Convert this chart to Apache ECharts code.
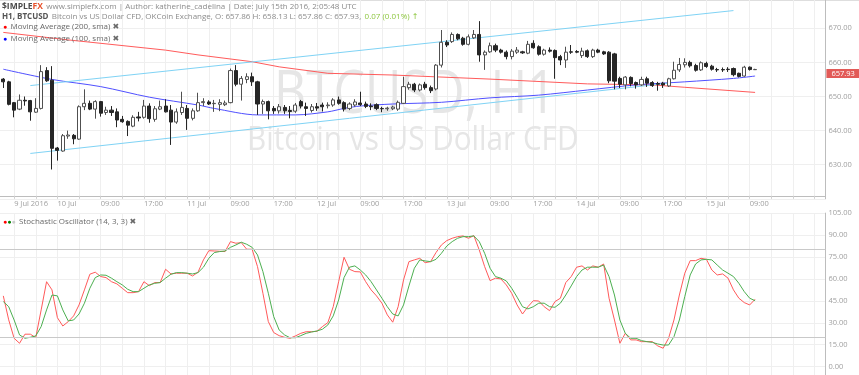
<!DOCTYPE html>
<html><head><meta charset="utf-8">
<script src="https://cdn.jsdelivr.net/npm/echarts@6/dist/echarts.min.js"></script>
<style>html,body{margin:0;padding:0;background:#fff}#c{width:859px;height:375px}</style>
</head><body><div id="c"></div>
<script>
// ---------- data ----------
const xTickLabels = ['9 Jul 2016','10 Jul','09:00','17:00','11 Jul','09:00','17:00','12 Jul','09:00','17:00','13 Jul','09:00','17:00','14 Jul','09:00','17:00','15 Jul','09:00'];

const opens = [655.1,654.3,648.2,646.3,648.9,648.8,645.4,646.5,657.6,654.8,
634.9,634.0,638.4,638.6,637.5,647.0,648.0,646.3,648.5,645.3,
646.0,645.5,643.3,642.7,641.3,644.0,643.9,647.2,643.3,646.3,
647.2,646.0,642.5,645.3,646.5,643.6,645.8,648.2,648.4,647.9,
647.7,647.6,648.2,657.6,653.6,655.0,655.8,654.3,647.8,648.5,
646.5,645.8,646.8,645.9,645.7,648.5,647.0,645.9,647.0,647.5,
647.3,647.5,649.0,648.2,646.5,647.5,648.1,647.8,647.2,647.6,
646.5,646.4,646.4,646.3,648.0,652.6,653.6,651.9,653.6,652.6,
652.2,659.2,665.9,666.1,668.2,667.1,665.3,667.2,668.2,662.2,
663.1,664.9,663.6,663.0,661.7,663.0,663.1,662.7,665.6,664.6,
662.4,663.6,663.5,661.7,660.7,663.1,663.2,662.0,663.4,661.7,
663.6,663.1,663.0,662.5,655.3,653.4,655.6,654.1,653.4,655.2,
654.1,653.8,653.9,653.1,655.2,657.8,659.3,660.0,659.1,657.8,
659.7,658.9,657.9,657.9,658.0,658.2,656.8,656.0,658.6,657.86];
const closes = [654.3,647.7,646.0,648.9,648.7,645.5,646.5,657.3,654.6,634.8,
634.2,638.5,638.7,637.6,647.0,648.0,646.3,648.5,645.1,646.0,
645.3,643.1,642.6,641.6,643.9,643.7,647.2,643.5,646.4,647.0,
645.5,642.5,645.5,646.8,643.6,645.8,648.2,648.5,647.8,648.0,
648.2,648.1,657.6,653.6,655.3,655.8,654.3,647.8,648.5,645.8,
645.8,647.0,645.8,645.6,647.5,647.2,646.5,647.0,646.6,647.0,
647.5,649.0,648.0,646.3,647.8,648.4,647.6,647.1,647.0,646.5,
646.4,646.6,646.9,648.3,652.9,653.6,651.9,653.4,652.6,651.7,
659.2,665.9,665.1,668.2,666.9,665.3,667.5,668.2,662.2,663.0,
664.9,663.6,663.0,661.7,663.3,663.6,662.8,665.3,664.3,662.4,
663.6,663.3,661.4,660.7,663.0,663.0,663.0,663.3,661.7,663.6,
663.0,662.5,654.6,654.5,653.6,655.7,653.8,653.4,655.0,653.9,
653.2,653.6,653.4,655.2,657.7,659.4,660.0,659.0,657.7,659.9,
658.8,658.0,657.8,657.8,657.9,656.4,655.9,658.6,657.9,657.93];
const lows = [652.5,647.4,643.9,646.0,647.3,642.9,645.2,646.2,654.3,628.6,
631.2,633.8,637.6,636.0,637.3,646.0,646.0,643.5,644.1,644.6,
644.3,641.0,642.3,638.4,641.0,642.7,643.5,642.3,642.6,646.0,
645.3,635.8,642.0,644.6,640.2,643.0,645.5,647.2,647.5,645.5,
645.7,647.2,648.0,653.0,648.8,653.9,653.1,644.6,644.9,643.3,
644.9,645.0,644.9,643.6,645.2,646.5,644.3,645.3,645.8,645.6,
646.5,647.0,647.6,645.6,646.0,647.0,647.2,646.6,646.0,646.0,
645.4,645.8,646.0,645.8,647.8,652.0,651.3,651.5,652.0,651.0,
651.8,658.5,664.5,665.7,666.5,664.9,665.0,666.9,660.2,657.8,
662.8,663.0,662.6,660.9,660.9,662.5,662.5,662.4,664.0,662.0,
662.0,662.9,655.2,659.2,658.4,662.5,662.7,661.3,661.3,661.3,
662.7,662.2,653.9,652.1,652.5,652.1,653.0,652.3,653.1,652.8,
652.8,651.7,652.5,652.8,655.0,657.2,658.5,658.5,657.3,657.5,
658.4,657.6,657.2,657.2,657.2,655.9,655.6,655.8,657.6,657.86];
const highs = [655.4,654.6,648.4,650.6,650.0,649.0,649.5,659.2,658.6,658.9,
635.2,639.0,640.0,639.0,647.4,652.1,648.8,648.9,648.7,647.0,
647.2,646.5,644.3,643.0,644.5,645.5,649.0,648.0,647.2,648.8,
649.2,647.5,646.5,651.4,647.5,646.5,651.1,649.5,648.9,649.0,
649.2,648.8,658.2,659.2,656.0,656.8,657.0,654.6,649.1,648.8,
647.2,647.8,647.5,647.2,648.1,649.0,648.2,647.8,648.1,648.2,
648.3,649.5,650.0,648.6,648.3,649.2,651.4,648.5,648.0,648.0,
647.0,647.0,647.3,648.8,655.8,654.3,654.0,653.8,654.3,653.2,
659.5,669.5,666.5,668.8,668.5,667.5,668.2,669.5,672.1,663.5,
665.8,665.5,664.0,663.5,663.9,664.5,663.4,666.3,666.5,665.0,
664.0,664.4,663.8,662.2,664.6,665.1,663.6,664.3,663.8,664.0,
664.0,663.4,663.3,662.8,655.8,656.0,655.9,654.4,655.8,655.8,
654.5,654.3,654.3,655.5,660.2,661.3,661.2,660.5,659.6,660.3,
660.2,659.3,658.4,658.5,658.6,658.5,657.0,659.0,658.8,658.13];

// moving averages / trend lines as [candle index, price]
const ma200 = [[0,668.8],[12,666.6],[30,663.6],[36,662.2],[46,660.2],[51,658.7],[60,656.8],[72,656.3],[90,655.1],[108,653.7],[120,653.4],[126,652.7],[139,651.2]];
const ma100 = [[0,658.0],[9,655.0],[18,652.9],[27,649.8],[36,647.5],[39,646.5],[47,644.6],[54,644.6],[60,645.5],[63,646.5],[66,647.2],[72,647.8],[81,648.3],[90,649.6],[99,650.4],[108,651.9],[117,653.4],[126,654.3],[135,655.3],[139,656.0]];
const upperTrend = [[5,653.2],[135,675.2]];
const lowerTrend = [[5,633.3],[123,653.9]];

// stochastic oscillator
const stochK = [48.4,32,19.4,16,22.2,22.2,19.9,38.8,58.1,52.5,
33.5,27.8,30.8,34.7,42.2,52.5,63.2,64.6,61.6,60.9,
58.1,56.6,53.6,50.6,50.6,51.3,58.1,55.4,57.5,57.5,
66.6,63.4,63.9,63.9,63.9,62.0,64.6,73.0,79.3,79.1,
78.9,78.7,85.5,84.4,84.8,80.3,80.3,68.4,50.2,30.8,
23.3,21.2,20.1,19.4,21.0,22.8,23.9,23.9,24.2,27.4,
30.1,41.0,58.1,74.8,66.6,65.0,64.8,58.1,52.5,48.4,
43.4,35.4,30.4,41.0,59.3,71.8,73.0,74.1,71.1,71.8,
78.0,83.2,86.2,87.8,88.9,89.4,87.8,89.6,79.8,68.4,
58.8,60.5,60.0,55.9,50.2,42.2,36.0,41.0,45.1,44.9,
41.0,38.3,44.5,46.8,57.5,61.6,68.0,68.9,66.1,68.9,
68.0,70.2,46.8,31.9,16.0,22.8,18.3,18.3,17.1,17.1,
17.1,14.2,12.6,19.4,31.9,49.0,63.9,72.5,72.5,74.1,
73.4,66.1,62.7,63.4,60.5,52.5,46.8,43.8,42.2,46.1];
const stochD = [44.5,41,31.9,21.7,19.4,20.1,21.0,27.4,38.8,49.0,
48.4,38.8,31.3,31.9,36.0,43.4,53.6,60.9,62.7,62.5,
60.5,58.1,55.9,52.9,51.3,51.3,53.6,55.9,57.0,57.5,
60.5,63.2,64.3,64.3,63.9,63.4,64.3,68.0,74.1,78.0,
78.7,79.1,81.6,83.2,85.1,83.7,81.6,76.4,65.0,50.2,
34.2,25.1,21.7,19.8,19.8,21.2,22.8,23.7,24.4,25.6,
28.5,34.7,45.6,60.9,68.0,68.9,66.1,62.7,58.1,52.5,
46.8,41.0,36.0,34.7,42.2,55.2,67.3,73.0,72.3,71.8,
73.4,77.5,82.5,85.5,87.8,88.9,88.9,89.4,85.5,77.5,
67.3,61.6,60.5,58.6,53.6,47.5,41.0,39.5,41.0,43.4,
43.4,41.0,40.6,43.4,49.0,55.2,61.6,66.1,68.0,68.0,
68.0,69.5,61.6,49.0,31.9,22.8,19.4,19.4,17.8,17.1,
16.6,15.5,14.8,14.8,20.5,31.9,47.9,62.7,70.2,73.0,
73.4,73.0,69.5,66.1,63.9,61.6,57.0,51.3,46.8,45.1];
const stochLevels = [80, 20];

// ---------- build ----------
const SLOTS = 154;          // category slots (1 leading pad + candles + right padding)
const PAD = 1;              // leading empty slot
const FIRST_LABEL = 3;      // slot of first grid / label
const categories = [];
for (let j = 0; j < SLOTS; j++) {
  const k = j - FIRST_LABEL;
  categories.push(k >= 0 && k % 8 === 0 && xTickLabels[k / 8] ? xTickLabels[k / 8] : '');
}
const candles = opens.map((o, i) => [i + PAD, o, closes[i], lows[i], highs[i]]);
const shift = arr => arr.map(([i, v]) => [i + PAD, v]);
const kData = stochK.map((v, i) => [i + PAD, v]);
const dData = stochD.map((v, i) => [i + PAD, v]);
const lastIdx = closes.length - 1;
const lastClose = closes[lastIdx];

const FONT = '"Open Sans", "DejaVu Sans", sans-serif';
const gridEvery4 = j => j >= FIRST_LABEL && (j - FIRST_LABEL) % 4 === 0;
const labelEvery8 = j => j >= FIRST_LABEL && (j - FIRST_LABEL) % 8 === 0;

const chart = echarts.init(document.getElementById('c'), null, {renderer: 'canvas'});
const L = -2.1, R = 33.6;
const STOCH = {top: 213.1, height: 175.5, min: -15, max: 105};

const graphics = [
    {type: 'line', silent: true, z: 0, shape: {x1: 0, y1: 0.5, x2: 859, y2: 0.5}, style: {stroke: '#dedede', lineWidth: 1}},
    {type: 'text', x: 274, y: 95.8, scaleX: 0.83, z: 1, silent: true,
     style: {text: 'BTCUSD, H1', x: 0, y: 0, align: 'left', verticalAlign: 'middle', fontSize: 60, fontFamily: '"Open Sans", sans-serif', fill: '#e6e6e6'}},
    {type: 'text', x: 247, y: 140.9, scaleX: 0.9, z: 1, silent: true,
     style: {text: 'Bitcoin vs US Dollar CFD', x: 0, y: 0, align: 'left', verticalAlign: 'middle', fontSize: 33, fontFamily: '"Open Sans", sans-serif', fill: '#e6e6e6'}},
    {type: 'text', left: 2, top: 1, z: 10,
     style: {text: '{l1|$IMPLE}{l2|FX} {g|www.simplefx.com | Author: katherine_cadelina | Date: July 15th 2016, 2:05:48 UTC}',
       rich: {l1: {fontSize: 8.5, fontWeight: 'bold', fill: '#4a4a4a', fontFamily: FONT},
              l2: {fontSize: 8.5, fontWeight: 'bold', fill: '#e8512a', fontFamily: FONT},
              g: {fontSize: 8, fill: '#8c8c8c', fontFamily: FONT}}}},
    {type: 'text', left: 2, top: 11, z: 10,
     style: {text: '{b|H1, BTCUSD} {g|Bitcoin vs US Dollar CFD, OKCoin Exchange, O: 657.86 H: 658.13 L: 657.86 C: 657.93,} {gr|0.07 (0.01%) ↑}',
       rich: {b: {fontSize: 8, fontWeight: 'bold', fill: '#555', fontFamily: FONT},
              g: {fontSize: 8, fill: '#8c8c8c', fontFamily: FONT},
              gr: {fontSize: 8, fill: '#8dc63f', fontFamily: FONT}}}},
    {type: 'text', left: 3, top: 21, z: 10,
     style: {text: '{d|●} {t|Moving Average (200, sma) ✖}',
       rich: {d: {fontSize: 7, fill: '#ff0000'}, t: {fontSize: 8, fill: '#6a6a6a', fontFamily: FONT}}}},
    {type: 'text', left: 3, top: 33, z: 10,
     style: {text: '{d|●} {t|Moving Average (100, sma) ✖}',
       rich: {d: {fontSize: 7, fill: '#0000ff'}, t: {fontSize: 8, fill: '#6a6a6a', fontFamily: FONT}}}},
    {type: 'text', left: 3, top: 216, z: 10,
     style: {text: '{r|●}{g|●}{s|●} {t|Stochastic Oscillator (14, 3, 3) ✖}',
       rich: {r: {fontSize: 7, fill: '#ff0000'}, g: {fontSize: 7, fill: '#008000'}, s: {fontSize: 7, fill: '#cccccc'},
              t: {fontSize: 8, fill: '#6a6a6a', fontFamily: FONT}}}}
];

chart.setOption({
  animation: false,
  backgroundColor: '#ffffff',
  textStyle: {fontFamily: FONT},
  grid: [
    {left: L, right: R, top: -5.8, height: 204.6, outerBoundsMode: 'none', containLabel: false},
    {left: L, right: R, top: STOCH.top, height: STOCH.height, outerBoundsMode: 'none', containLabel: false}
  ],
  xAxis: [
    {type: 'category', gridIndex: 0, data: categories, boundaryGap: false, offset: -3,
     axisLine: {show: true, lineStyle: {color: '#bdbdbd', width: 1}},
     axisTick: {show: true, interval: (j) => gridEvery4(j), length: 3, lineStyle: {color: '#d0d0d0'}},
     axisLabel: {show: true, interval: (j) => labelEvery8(j), align: 'left', margin: 4, fontSize: 7.5, color: '#a0a0a0', fontFamily: FONT},
     splitLine: {show: true, interval: (j) => gridEvery4(j), lineStyle: {color: '#efefef', width: 1}}},
    {type: 'category', gridIndex: 1, data: categories, boundaryGap: false,
     axisLine: {show: false}, axisTick: {show: false}, axisLabel: {show: false},
     splitLine: {show: true, interval: (j) => gridEvery4(j), lineStyle: {color: '#efefef', width: 1}}}
  ],
  yAxis: [
    {type: 'value', gridIndex: 0, position: 'right', min: 620, max: 680, interval: 10,
     axisLine: {show: true, lineStyle: {color: '#bdbdbd'}}, axisTick: {show: false},
     axisLabel: {margin: 3, fontSize: 7.5, color: '#a0a0a0', fontFamily: FONT, showMinLabel: false, showMaxLabel: false,
                 formatter: v => v.toFixed(2)},
     splitLine: {show: true, lineStyle: {color: '#efefef'}}},
    {type: 'value', gridIndex: 1, position: 'right', min: STOCH.min, max: STOCH.max, interval: 15,
     axisLine: {show: true, lineStyle: {color: '#bdbdbd'}}, axisTick: {show: false},
     axisLabel: {margin: 3, fontSize: 7.5, color: '#a0a0a0', fontFamily: FONT, showMinLabel: true, showMaxLabel: true,
                 hideOverlap: false, formatter: v => (v === 0 ? '' : v.toFixed(2))},
     splitLine: {show: true, lineStyle: {color: '#efefef'}}}
  ],
  graphic: graphics,
  series: [
    {type: 'candlestick', xAxisIndex: 0, yAxisIndex: 0, data: candles, encode: {x: 0, y: [1, 2, 3, 4]},
     barWidth: 3.6, z: 5,
     itemStyle: {color: '#ffffff', color0: '#262626', borderColor: '#505050', borderColor0: '#262626', borderWidth: 1}},
    {type: 'line', xAxisIndex: 0, yAxisIndex: 0, data: shift(ma200), symbol: 'none', z: 3,
     lineStyle: {color: '#ff5b5b', width: 1}},
    {type: 'line', xAxisIndex: 0, yAxisIndex: 0, data: shift(ma100), symbol: 'none', z: 3, smooth: 0.3,
     lineStyle: {color: '#5050ff', width: 1}},
    {type: 'line', xAxisIndex: 0, yAxisIndex: 0, data: shift(upperTrend), symbol: 'none', z: 3,
     lineStyle: {color: '#7fd3f5', width: 1}},
    {type: 'line', xAxisIndex: 0, yAxisIndex: 0, data: shift(lowerTrend), symbol: 'none', z: 3,
     lineStyle: {color: '#7fd3f5', width: 1}},
    // last price tag
    {type: 'line', xAxisIndex: 0, yAxisIndex: 0, data: [[lastIdx + PAD, lastClose]], symbol: 'none', z: 6, clip: false,
     lineStyle: {color: 'rgba(0,0,0,0)'},
     markLine: {silent: true, symbol: ['none', 'none'], animation: false,
       data: [{yAxis: lastClose}], lineStyle: {color: 'rgba(0,0,0,0)', width: 1, type: 'solid'},
       label: {show: true, opacity: 1, position: 'end', distance: 1, offset: [0, 4], formatter: p => Number(p.value).toFixed(2),
               backgroundColor: '#e25a57', color: '#ffffff', fontSize: 7.5, padding: [1, 5, 0, 5], fontFamily: FONT}}},
    {type: 'line', xAxisIndex: 1, yAxisIndex: 1, data: kData, symbol: 'none', z: 4,
     lineStyle: {color: '#ff5a5a', width: 1},
     markLine: {silent: true, symbol: 'none', animation: false, label: {show: false},
       lineStyle: {color: '#c9c9c9', type: 'solid', width: 1},
       data: stochLevels.map(v => ({yAxis: v}))}},
    {type: 'line', xAxisIndex: 1, yAxisIndex: 1, data: dData, symbol: 'none', z: 4,
     lineStyle: {color: '#4caf50', width: 1}}
  ]
});

// zero tick label of the oscillator scale
let zeroY = chart.convertToPixel({yAxisIndex: 1}, 0);
if (!isFinite(zeroY)) zeroY = STOCH.top + STOCH.height * (STOCH.max - 0) / (STOCH.max - STOCH.min);
const labelX = 859 - R + 3;
graphics.push({type: 'text', x: labelX, y: zeroY, z: 20, zlevel: 0, silent: true,
  style: {text: (0).toFixed(2), x: 0, y: 0, align: 'left', verticalAlign: 'middle', fontSize: 7.5, fontFamily: FONT, fill: '#a0a0a0'}});
chart.setOption({graphic: graphics});
</script></body></html>
